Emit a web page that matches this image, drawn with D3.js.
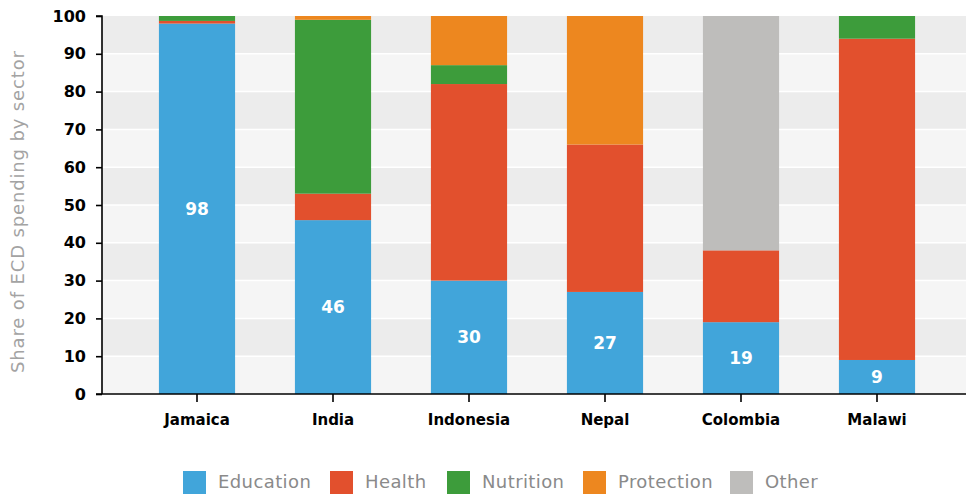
<!DOCTYPE html>
<html>
<head>
<meta charset="utf-8">
<script src="https://cdn.jsdelivr.net/npm/d3@7/dist/d3.min.js"></script>
<style>
  html, body { margin: 0; padding: 0; background: #ffffff; }
  svg { display: block; }
  text { font-family: "DejaVu Sans", sans-serif; }
</style>
</head>
<body>
<svg id="chart" width="966" height="495"></svg>
<script>
// Share of early childhood development spending by sector (%)
const countries = ["Jamaica", "India", "Indonesia", "Nepal", "Colombia", "Malawi"];
const sectors = ["Education", "Health", "Nutrition", "Protection", "Other"];
const education  = [98, 46, 30, 27, 19, 9];
const health     = [0.7, 7, 52, 39, 19, 85];
const nutrition  = [1.3, 46, 5, 0, 0, 6];
const protection = [0, 1, 13, 34, 0, 0];
const other      = [0, 0, 0, 0, 62, 0];
const yTicks = [0, 10, 20, 30, 40, 50, 60, 70, 80, 90, 100];
const colors = ["#41a5da", "#e2502d", "#3d9c3b", "#ed871f", "#bebdbb"];

const rows = countries.map((c, i) => ({
  country: c,
  Education: education[i],
  Health: health[i],
  Nutrition: nutrition[i],
  Protection: protection[i],
  Other: other[i]
}));

const svg = d3.select("#chart");
const plotLeft = 102, plotRight = 966, plotTop = 16, plotBottom = 394;

const x = d3.scaleBand()
  .domain(countries)
  .range([129, 945])
  .paddingInner(0.44)
  .paddingOuter(0.22);

const y = d3.scaleLinear().domain([0, 100]).range([plotBottom, plotTop]);
const color = d3.scaleOrdinal().domain(sectors).range(colors);

// alternating background bands
const bands = d3.range(0, 100, 10);
svg.append("g").selectAll("rect").data(bands).join("rect")
  .attr("x", plotLeft)
  .attr("width", plotRight - plotLeft)
  .attr("y", d => y(d + 10))
  .attr("height", d => y(d) - y(d + 10))
  .attr("fill", d => (d / 10) % 2 === 0 ? "#f5f5f5" : "#ececec");

// white grid lines between bands
svg.append("g").selectAll("line").data(yTicks.filter(d => d > 0 && d < 100)).join("line")
  .attr("x1", plotLeft).attr("x2", plotRight)
  .attr("y1", d => y(d)).attr("y2", d => y(d))
  .attr("stroke", "#ffffff").attr("stroke-width", 1.5);

// stacked bars
const stacked = d3.stack().keys(sectors)(rows);
svg.append("g").selectAll("g").data(stacked).join("g")
  .attr("fill", d => color(d.key))
  .selectAll("rect").data(d => d).join("rect")
  .attr("x", d => x(d.data.country))
  .attr("width", x.bandwidth())
  .attr("y", d => y(d[1]))
  .attr("height", d => y(d[0]) - y(d[1]));

// value labels for the education segment
svg.append("g").selectAll("text").data(rows).join("text")
  .attr("x", d => x(d.country) + x.bandwidth() / 2)
  .attr("y", d => y(d.Education / 2))
  .attr("dy", "0.35em")
  .attr("text-anchor", "middle")
  .attr("fill", "#ffffff")
  .attr("font-size", 17)
  .attr("font-weight", "bold")
  .text(d => d.Education);

// y axis
const yAxis = svg.append("g")
  .attr("transform", `translate(${plotLeft},0)`)
  .call(d3.axisLeft(y).tickValues(yTicks).tickSize(6).tickPadding(10));
yAxis.select(".domain").attr("stroke", "#000").attr("stroke-width", 1.6).attr("d", `M-6,${plotTop}H0V${plotBottom}`);
yAxis.selectAll(".tick line").attr("stroke", "#000").attr("stroke-width", 1.6);
yAxis.selectAll(".tick text")
  .attr("fill", "#000")
  .attr("font-size", 16)
  .attr("font-weight", "bold")
  .attr("font-family", "DejaVu Sans, sans-serif");

// x axis
const xAxis = svg.append("g")
  .attr("transform", `translate(0,${plotBottom})`)
  .call(d3.axisBottom(x).tickSize(8).tickPadding(12));
xAxis.select(".domain").attr("stroke", "#000").attr("stroke-width", 1.6).attr("d", `M${plotLeft - 6},0H${plotRight}`);
xAxis.selectAll(".tick line").attr("stroke", "#000").attr("stroke-width", 1.6);
xAxis.selectAll(".tick text")
  .attr("fill", "#000")
  .attr("font-size", 15)
  .attr("font-weight", "bold")
  .attr("font-family", "DejaVu Sans, sans-serif");

// y axis title
svg.append("text")
  .attr("transform", `translate(24,212) rotate(-90)`)
  .attr("text-anchor", "middle")
  .attr("fill", "#a3a3a3")
  .attr("font-size", 18)
  .attr("textLength", 322)
  .attr("lengthAdjust", "spacing")
  .text("Share of ECD spending by sector");

// legend
const legendX = [183, 330, 447, 583, 730];
const legend = svg.append("g").selectAll("g").data(sectors).join("g")
  .attr("transform", (d, i) => `translate(${legendX[i]},471)`);
legend.append("rect")
  .attr("width", 23).attr("height", 23)
  .attr("fill", d => color(d));
legend.append("text")
  .attr("x", 35).attr("y", 17)
  .attr("fill", "#8a8a8a")
  .attr("font-size", 18)
  .attr("letter-spacing", 0.4)
  .text(d => d);
</script>
</body>
</html>
